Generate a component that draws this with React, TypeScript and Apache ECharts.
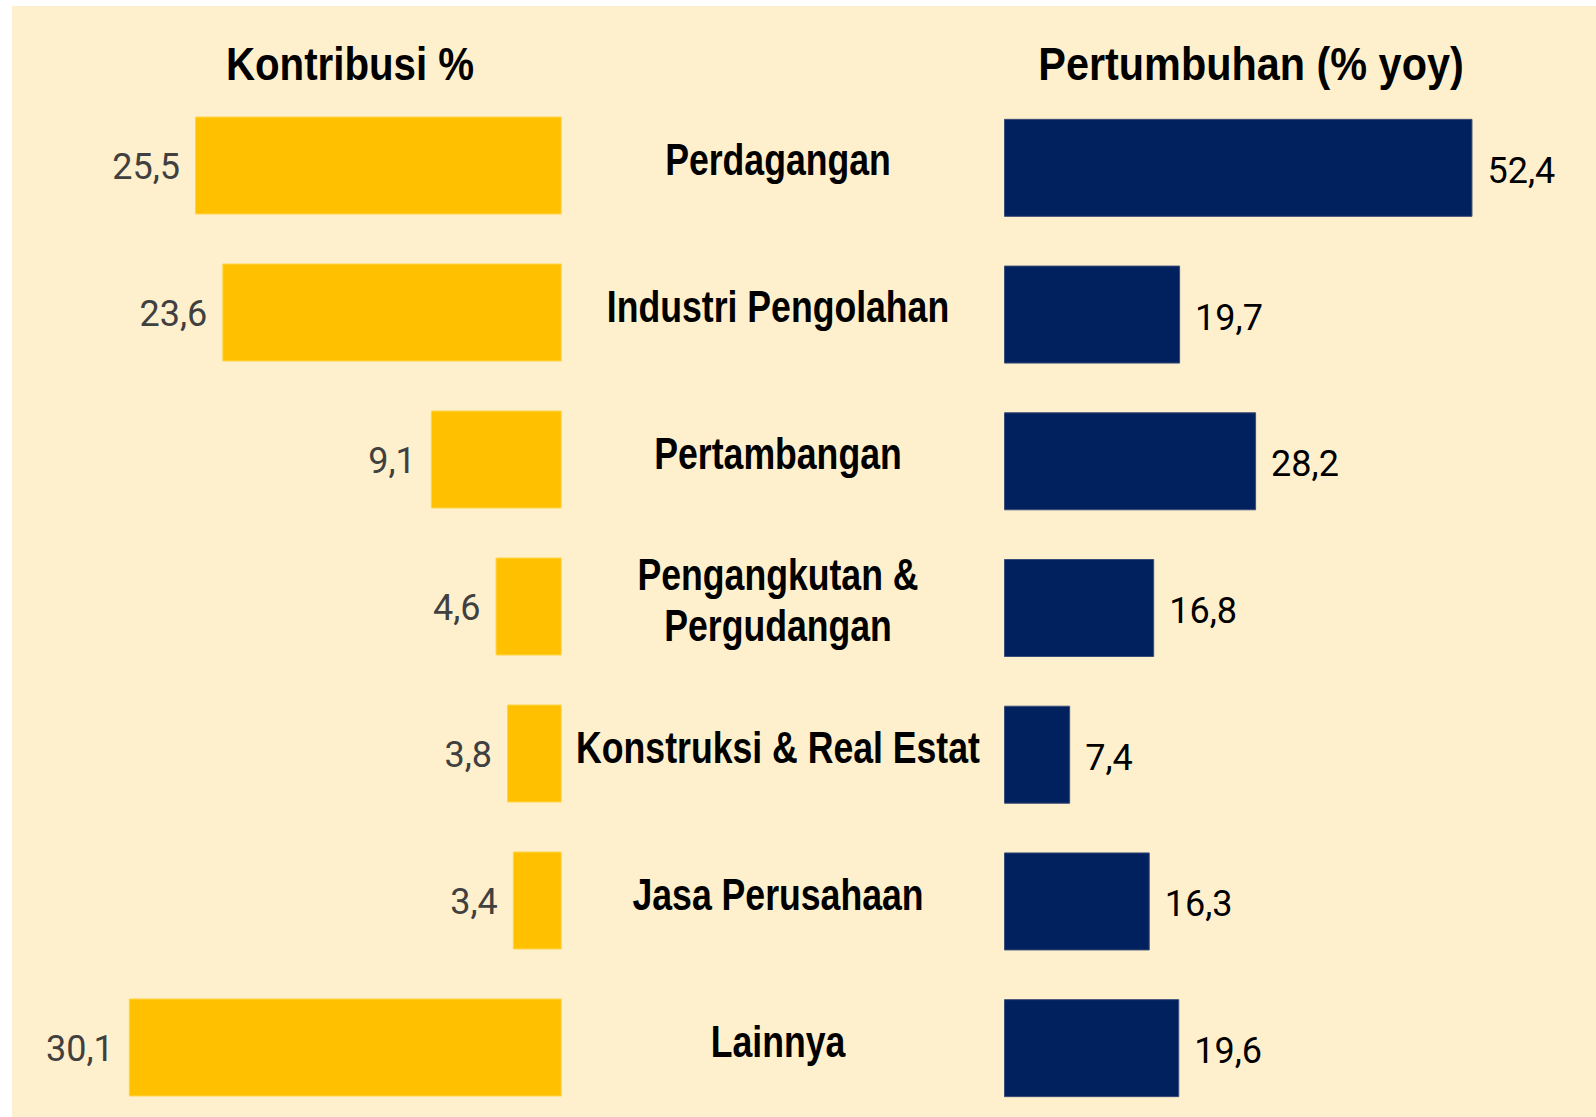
import React, { useEffect, useRef } from "react";
import * as echarts from "echarts";

const categories = [
  "Perdagangan",
  "Industri Pengolahan",
  "Pertambangan",
  "Pengangkutan &\nPergudangan",
  "Konstruksi & Real Estat",
  "Jasa Perusahaan",
  "Lainnya",
];
const kontribusi = [25.5, 23.6, 9.1, 4.6, 3.8, 3.4, 30.1];
const pertumbuhan = [52.4, 19.7, 28.2, 16.8, 7.4, 16.3, 19.6];
const titleLeft = "Kontribusi %";
const titleRight = "Pertumbuhan (% yoy)";

const BOLD_FONT = "'Liberation Sans', Arial, sans-serif";
const VALUE_FONT = "Roboto, 'Liberation Sans', sans-serif";
const fmt = (p: any) => Number(p.value).toFixed(1).replace(".", ",");

export default function App() {
  const ref = useRef<HTMLDivElement>(null);
  useEffect(() => {
    if (!ref.current) return;
    const chart = echarts.init(ref.current, undefined, { renderer: "svg" });
    const bg = {
      id: "bg",
      type: "rect",
      z: -10,
      shape: { x: 12, y: 6, width: 1584, height: 1140 },
      style: { fill: "#FFF0CD" },
      silent: true,
    };
    chart.setOption({
      animation: false,
      backgroundColor: "#ffffff",
      graphic: [bg],
      grid: [
        { left: 101.5, width: 460.2, top: 92, height: 1029, containLabel: false },
        { left: 1004, width: 491.7, top: 94.5, height: 1027, containLabel: false },
      ],
      xAxis: [
        { gridIndex: 0, type: "value", min: 0, max: 32, inverse: true, show: false },
        { gridIndex: 1, type: "value", min: 0, max: 55, show: false },
      ],
      yAxis: [
        { gridIndex: 0, type: "category", data: categories, inverse: true, show: false },
        { gridIndex: 1, type: "category", data: categories, inverse: true, show: false },
      ],
      series: [
        {
          type: "bar",
          xAxisIndex: 0,
          yAxisIndex: 0,
          data: kontribusi,
          barWidth: 98,
          itemStyle: { color: "#FFC000", borderColor: "#FFD54A", borderWidth: 1 },
          label: {
            show: true,
            position: "left",
            distance: 15,
            offset: [0, 1],
            formatter: fmt,
            fontFamily: VALUE_FONT,
            fontSize: 36,
            color: "#404040",
          },
        },
        {
          type: "bar",
          xAxisIndex: 1,
          yAxisIndex: 1,
          data: pertumbuhan,
          barWidth: 98,
          itemStyle: { color: "#00205E", borderColor: "#3C4C78", borderWidth: 1 },
          label: {
            show: true,
            position: "right",
            distance: 15,
            offset: [0, 3],
            formatter: fmt,
            fontFamily: VALUE_FONT,
            fontSize: 36,
            color: "#000",
          },
        },
      ],
    });

    const catTexts = categories.map((c, i) => {
      const cy = chart.convertToPixel({ yAxisIndex: 0 }, i) as number;
      return {
        type: "text",
        x: 778,
        y: cy - 6,
        scaleX: 0.81,
        z: 10,
        silent: true,
        style: {
          text: c,
          x: 0,
          y: 0,
          align: "center",
          verticalAlign: "middle",
          fontFamily: BOLD_FONT,
          fontWeight: "bold",
          fontSize: 44,
          lineHeight: 51,
          fill: "#000",
        },
      };
    });
    const titleTexts = [
      { t: titleLeft, x: 350, s: 0.875 },
      { t: titleRight, x: 1251, s: 0.9 },
    ].map((o) => ({
      type: "text",
      x: o.x,
      y: 64,
      scaleX: o.s,
      z: 10,
      silent: true,
      style: {
        text: o.t,
        x: 0,
        y: 0,
        align: "center",
        verticalAlign: "middle",
        fontFamily: BOLD_FONT,
        fontWeight: "bold",
        fontSize: 46,
        fill: "#000",
      },
    }));
    chart.setOption({ graphic: [bg, ...titleTexts, ...catTexts] });
    return () => chart.dispose();
  }, []);
  return (
    <div
      style={{
        position: "absolute",
        left: 0,
        top: 0,
        width: 1596,
        height: 1117,
        overflow: "hidden",
      }}
    >
      <div ref={ref} style={{ width: 1596, height: 1140 }} />
    </div>
  );
}
